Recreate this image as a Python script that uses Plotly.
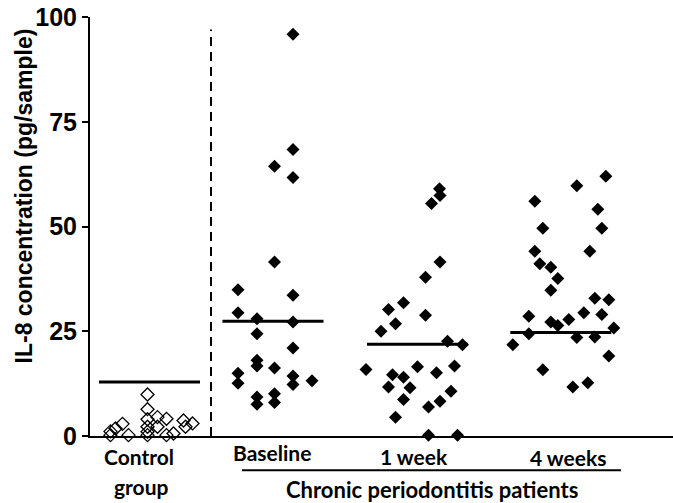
import plotly.graph_objects as go

# ---- data ----
group_names = ["Control group", "Baseline", "1 week", "4 weeks"]
group_pos = [59.5, 183.0, 327.5, 470.8]       # x position of each group centre
group_means = [12.9, 27.4, 21.9, 24.7]

control_vals = [9.9, 6.4, 4.0, 4.5, 4.1, 2.9, 3.7, 3.0, 1.8, 1.1, 2.2, 2.2, 1.0, 2.2, 0.6, 0.2, 0.2, 0.2, 0.2]
control_jit = [-2, -2, -2, 8, 17, -27, 34, 43, -34, -39, 36, -2, -2, 8, 24, -21, -39, 17, -2]

baseline_vals = [95.9, 68.4, 64.4, 61.7, 41.5, 34.9, 33.6, 29.4, 28.0, 27.2, 24.4, 21.0, 18.1, 16.7,
                 16.2, 15.0, 12.6, 14.3, 12.3, 13.2, 9.3, 7.6, 10.1, 8.0]
baseline_jit = [20, 20, 1.5, 20, 1.5, -35, 20, -35, -16, 20, -16, 20, -16, -16,
                1.5, -35, -35, 20, 20, 39, -16, -16, 1.5, 1.5]

week1_vals = [59.0, 57.4, 55.5, 41.5, 37.9, 31.8, 30.2, 28.8, 26.8, 25.0, 22.6, 21.8, 15.9, 14.6,
              14.0, 16.5, 15.1, 16.7, 11.7, 11.5, 8.7, 10.7, 8.3, 6.9, 4.5, 0.2, 0.2]
week1_jit = [22, 22.5, 14, 22.5, 8, -14, -29, 8, -22, -36.5, 30, 45, -51.5, -25,
             -14, 0, 19, 37, -29, -7.5, -14, 33.5, 22.5, 11, -22, 11, 40]

week4_vals = [62.0, 59.7, 56.0, 54.1, 49.6, 49.6, 44.1, 44.1, 41.1, 40.3, 37.6, 34.8, 32.9, 32.5,
              28.6, 29.4, 29.0, 27.8, 27.2, 26.4, 24.4, 25.8, 23.5, 23.6, 21.8, 19.1, 15.8, 12.7, 11.7]
week4_jit = [45, 16, -26, 37, -18, 41, -26, 29, -21, -10, -3, -10, 34, 48,
             -32, 23, 41, 8, -10, -3, -32, 53, 16, 34, -48, 48, -18, 27, 12]

y_ticks = [0, 25, 50, 75, 100]
y_title = "IL-8 concentration (pg/sample)"
cat_labels = ["Control", "Baseline", "1 week", "4 weeks"]
patients_label = "Chronic periodontitis patients"
control_second = "group"

mean_half = 50.5
divider_x = 121.0
divider_top = 97.0

fig = go.Figure()

# control group: open diamonds
fig.add_trace(go.Scatter(
    x=[group_pos[0] + j for j in control_jit], y=control_vals, mode="markers",
    marker=dict(symbol="diamond-open", size=10, color="black", line=dict(width=1.3)),
    cliponaxis=False, showlegend=False, hoverinfo="skip"))

# patients: filled diamonds
for pos, vals, jit in [(group_pos[1], baseline_vals, baseline_jit),
                       (group_pos[2], week1_vals, week1_jit),
                       (group_pos[3], week4_vals, week4_jit)]:
    fig.add_trace(go.Scatter(
        x=[pos + j for j in jit], y=vals, mode="markers",
        marker=dict(symbol="diamond", size=10, color="black", line=dict(width=0)),
        cliponaxis=False, showlegend=False, hoverinfo="skip"))

# mean lines
for pos, m in zip(group_pos, group_means):
    fig.add_trace(go.Scatter(
        x=[pos - mean_half, pos + mean_half], y=[m, m], mode="lines",
        line=dict(color="black", width=3), showlegend=False, hoverinfo="skip"))

# dashed divider
fig.add_shape(type="line", xref="x", yref="y", x0=divider_x, x1=divider_x, y0=0, y1=divider_top,
              line=dict(color="black", width=2, dash="9px,6px"))

# underline for patients label
fig.add_shape(type="line", xref="x", yref="paper", x0=152, x1=531, y0=-0.082, y1=-0.082,
              line=dict(color="black", width=2))

lab_font = dict(family="Lato", size=21, color="black")
label_x = [49, 182, 324, 478]
label_y = [-0.048, -0.040, -0.048, -0.052]
for xl, yl, t in zip(label_x, label_y, cat_labels):
    fig.add_annotation(x=xl, y=yl, xref="x", yref="paper", text="<b>%s</b>" % t,
                       showarrow=False, font=lab_font, yanchor="middle")
fig.add_annotation(x=51, y=-0.121, xref="x", yref="paper", text="<b>%s</b>" % control_second,
                   showarrow=False, font=lab_font, yanchor="middle")
fig.add_annotation(x=342, y=-0.128, xref="x", yref="paper", text="<b>%s</b>" % patients_label,
                   showarrow=False, font=dict(family="Lato", size=22, color="black"),
                   yanchor="middle")

# y-axis title
fig.add_annotation(x=-0.113, y=0.572, xref="paper", yref="paper", text="<b>%s</b>" % y_title,
                   showarrow=False, textangle=-90, xanchor="center", yanchor="middle",
                   font=dict(family="Liberation Sans", size=23, color="black"))

fig.update_layout(
    width=673, height=503, autosize=False,
    margin=dict(l=90, r=0, t=17, b=67, pad=0),
    paper_bgcolor="white", plot_bgcolor="white",
    hovermode=False,
    xaxis=dict(range=[0, 583], showgrid=False, zeroline=False, showticklabels=False,
               ticks="", showline=True, linecolor="black", linewidth=2, fixedrange=True,
               automargin=False),
    yaxis=dict(range=[0, 100], tickvals=y_ticks, ticktext=["<b>%d</b>" % v for v in y_ticks],
               showgrid=False, zeroline=False, ticks="outside", ticklen=6, tickwidth=2,
               tickcolor="black", showline=True, linecolor="black", linewidth=2,
               automargin=False, ticklabeloverflow="allow", fixedrange=True,
               tickfont=dict(family="Liberation Sans", size=25, color="black")),
)

fig.write_html("out.html", config={"displayModeBar": False},
               post_script="document.body.style.margin='0px';")
